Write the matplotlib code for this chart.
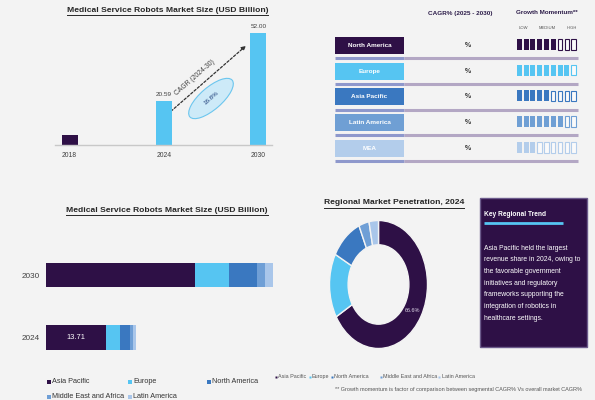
import matplotlib
matplotlib.use('Agg')
import matplotlib.pyplot as plt
from matplotlib.patches import Rectangle, Ellipse
import numpy as np

# ---------------- data ----------------
years_top = ['2018', '2024', '2030']
market_size = [4.6, 20.59, 52.00]
value_labels = ['', '20.59', '52.00']
cagr_label = 'CAGR (2024-30)'
cagr_value = '16.8%'
top_colors = ['#2e1046', '#56c5f2', '#56c5f2']

stack_years = ['2024', '2030']
regions = ['Asia Pacific', 'Europe', 'North America', 'Middle East and Africa', 'Latin America']
asia_pacific = [13.71, 34.06]
europe = [3.34, 7.85]
north_america = [2.20, 6.36]
middle_east_africa = [0.70, 1.90]
latin_america = [0.64, 1.83]
region_colors = ['#2e1046', '#56c5f2', '#3a78c0', '#6f9fd6', '#a9c6ea']
ap_label = ['13.71', '']

table_regions = ['North America', 'Europe', 'Asia Pacific', 'Latin America', 'MEA']
table_colors = ['#2e1046', '#56c5f2', '#3a78c0', '#6f9fd4', '#b3cdeb']
cagr_text = ['%', '%', '%', '%', '%']
momentum = [6, 8, 5, 7, 3]
momentum_total = 9
momentum_levels = ['LOW', 'MEDIUM', 'HIGH']

title_top = 'Medical Service Robots Market Size (USD Billion)'
title_pen = 'Regional Market Penetration, 2024'
trend_title = 'Key Regional Trend'
trend_lines = ['Asia Pacific held the largest',
               'revenue share in 2024, owing to',
               'the favorable government',
               'initiatives and regulatory',
               'frameworks supporting the',
               'integration of robotics in',
               'healthcare settings.']
footnote = '** Growth momentum is factor of comparison between segmental CAGR% Vs overall market CAGR%'

# ---------------- style ----------------
plt.rcParams['font.family'] = ['Liberation Sans', 'DejaVu Sans']
BG = '#f3f3f3'
DARK = '#2e1046'
W, H = 595, 400

fig = plt.figure(figsize=(W / 100, H / 100), dpi=100, facecolor=BG)


def px_axes(x0, ytop, w, h):
    return fig.add_axes([x0 / W, 1 - (ytop + h) / H, w / W, h / H])


bg = fig.add_axes([0, 0, 1, 1], zorder=-5)
bg.set_xlim(0, W)
bg.set_ylim(H, 0)
bg.axis('off')
bg.set_facecolor(BG)

# ---------------- top-left bar chart ----------------
scale_top = 2.154  # px per unit
ax1 = px_axes(55, 145.3 - 60 * scale_top, 217, 60 * scale_top)
ax1.patch.set_alpha(0)
xpos = np.arange(len(years_top))
bars = ax1.bar(xpos, market_size, width=0.17, color=top_colors)
ax1.bar_label(bars, labels=value_labels, padding=3, fontsize=4.6, color='#404040')
ax1.set_xlim(-0.154, 2.145)
ax1.set_ylim(0, 60)
ax1.set_xticks(xpos, years_top, fontsize=4.9, color='#404040')
ax1.tick_params(axis='x', length=0, pad=4.5)
ax1.set_yticks([])
for s in ['top', 'right', 'left']:
    ax1.spines[s].set_visible(False)
ax1.spines['bottom'].set_color('#c8c8c8')
ax1.spines['bottom'].set_linewidth(1)

# CAGR arrow and bubble
bg.annotate('', xy=(248, 44), xytext=(159, 121.7),
            arrowprops=dict(arrowstyle='-|>', linestyle=(0, (2, 1.5)), color='#333333',
                            lw=0.9, mutation_scale=6))
bg.text(195, 78, cagr_label, rotation=41, fontsize=4.9, color='#404040',
        ha='center', va='center')
bg.add_patch(Ellipse((211, 98.5), 56, 22, angle=-41, facecolor='#cdeaf8',
                     edgecolor='#6cc6ee', lw=0.8))
bg.text(211, 98.5, cagr_value, rotation=41, fontsize=4.5, color='#1f3f7a',
        ha='center', va='center')

# ---------------- top-right table ----------------
bg.text(460, 13, 'CAGR% (2025 - 2030)', fontsize=4.6, fontweight='bold', color='#2d1d4a',
        ha='center', va='center')
bg.text(547, 12, 'Growth Momentum**', fontsize=4.5, fontweight='bold', color='#2d1d4a',
        ha='center', va='center')
for lx, lvl in zip([523, 547, 572], momentum_levels):
    bg.text(lx, 28, lvl, fontsize=3.0, color='#555555', ha='center', va='center')

for i, (reg, col, ctext, m) in enumerate(zip(table_regions, table_colors, cagr_text, momentum)):
    yc = 45.5 + i * 25.7
    bg.add_patch(Rectangle((335, yc - 8.5), 69, 17, facecolor=col, edgecolor='none'))
    bg.text(369.5, yc, reg, fontsize=4.6, fontweight='bold', color='white',
            ha='center', va='center')
    bg.text(468, yc, ctext, fontsize=5, fontweight='bold', color='#333333',
            ha='center', va='center')
    for k in range(momentum_total):
        bx = 516.7 + k * 6.8
        if k < m:
            bg.add_patch(Rectangle((bx, yc - 6.5), 5.0, 11, facecolor=col, edgecolor='none'))
        else:
            bg.add_patch(Rectangle((bx + 0.3, yc - 6.2), 4.4, 10.4, facecolor='#fafafa',
                                   edgecolor=col, lw=0.8))
    ly = yc + 12.7
    bg.plot([335, 404], [ly, ly], color='#8e98cc', lw=2.2, solid_capstyle='butt')
    bg.plot([404, 578], [ly, ly], color='#b3a7c4', lw=2.2, solid_capstyle='butt')

# ---------------- bottom-left stacked bar ----------------
scale_st = 4.378
ax2 = px_axes(45.7, 243.75, 60 * scale_st, 125)
ax2.patch.set_alpha(0)
ypos = np.arange(len(stack_years))
series = [asia_pacific, europe, north_america, middle_east_africa, latin_america]
left = np.zeros(len(stack_years))
containers = []
for vals, col in zip(series, region_colors):
    c = ax2.barh(ypos, vals, left=left, height=0.39, color=col)
    containers.append(c)
    left = left + np.array(vals)
ax2.bar_label(containers[0], labels=ap_label, label_type='center', color='white', fontsize=5.4)
ax2.set_xlim(0, 60)
ax2.set_ylim(-0.5, 1.5)
ax2.set_yticks(ypos, stack_years, fontsize=5.9, color='#404040')
ax2.tick_params(axis='y', length=0, pad=4.5)
ax2.set_xticks([])
for s in ax2.spines.values():
    s.set_visible(False)

# legend (manual layout)
leg_pos = [(46.7, 381.7), (127.7, 381.7), (206.7, 381.7), (46.7, 396.7), (127.7, 396.7)]
for (lx, ly), lab, col in zip(leg_pos, regions, region_colors):
    bg.add_patch(Rectangle((lx, ly - 2.2), 4.4, 4.4, facecolor=col, edgecolor='none'))
    bg.text(lx + 5.3, ly, lab, fontsize=5.2, color='#333333', ha='left', va='center')

# ---------------- donut ----------------
ax3 = px_axes(329.5, 220.5, 98, 128)
ax3.patch.set_alpha(0)
shares = [s[0] for s in series]
wedges, _ = ax3.pie(shares, colors=region_colors, startangle=90, counterclock=False,
                    radius=1, wedgeprops=dict(width=0.38, edgecolor=BG, linewidth=1.0))
ax3.set_aspect('auto')
ax3.set_xlim(-1, 1)
ax3.set_ylim(-1, 1)
w0 = wedges[0]
mid = np.deg2rad((w0.theta1 + w0.theta2) / 2)
pct = 100 * shares[0] / sum(shares)
ax3.text(0.81 * np.cos(mid), 0.81 * np.sin(mid), f'{pct:.1f}%', fontsize=4.0,
         color='#d9d2e4', ha='center', va='center')

dl_pos = [276, 309.5, 332, 380.5, 439]
for lx, lab, col in zip(dl_pos, regions, region_colors):
    bg.plot([lx], [376.5], marker='s', ms=1.6, color=col, mec='none')
    bg.text(lx + 2.5, 376.5, lab, fontsize=3.9, color='#555555', ha='left', va='center')
bg.text(582, 390, footnote, fontsize=4.0, color='#555555', ha='right', va='center')

# ---------------- key trend box ----------------
bg.add_patch(Rectangle((480, 198), 106.7, 149, facecolor=DARK, edgecolor='#6c5b8c', lw=1))
bg.text(483.5, 215, trend_title, fontsize=4.8, fontweight='bold', color='white',
        ha='left', va='center')
bg.plot([483.5, 563], [223, 223], color='#56c5f2', lw=2, solid_capstyle='butt')
for j, line in enumerate(trend_lines):
    bg.text(483.5, 248 + j * 11.7, line, fontsize=4.9, color='white', ha='left', va='center')

# ---------------- titles with underline ----------------
titles = [(167.4, 10, title_top), (167, 210, title_top), (394, 203, title_pen)]
tobjs = []
for tx, ty, tt in titles:
    tobjs.append(bg.text(tx, ty, tt, fontsize=6.1, fontweight='bold', color='#262626',
                         ha='center', va='center'))
fig.canvas.draw()
r = fig.canvas.get_renderer()
for t, (tx, ty, tt) in zip(tobjs, titles):
    bb = t.get_window_extent(renderer=r)
    uy = ty + 5.0
    bg.plot([bb.x0, bb.x1], [uy, uy], color='#262626', lw=0.7)

fig.savefig('out.png', dpi=100, facecolor=BG)
